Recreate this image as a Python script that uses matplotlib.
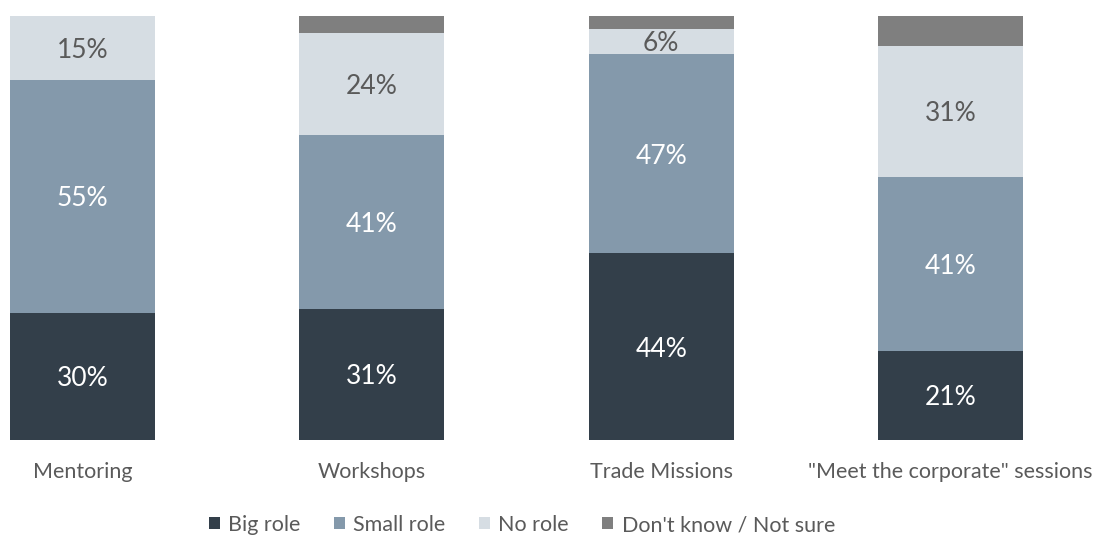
import matplotlib
matplotlib.use("Agg")
import matplotlib.pyplot as plt
from matplotlib.patches import Patch
import numpy as np

categories = ["Mentoring", "Workshops", "Trade Missions", "\"Meet the corporate\" sessions"]
big_role = [30, 31, 44, 21]
small_role = [55, 41, 47, 41]
no_role = [15, 24, 6, 31]
dont_know = [0, 4, 3, 7]

series_names = ["Big role", "Small role", "No role", "Don't know / Not sure"]
colors = ["#333f4a", "#8499ab", "#d6dde3", "#7f7f7f"]
label_colors = ["white", "white", "#5a5a5a", None]

plt.rcParams["font.family"] = ["Lato", "DejaVu Sans"]

fig = plt.figure(figsize=(10.97, 5.36), dpi=100)
W, H = 1097, 536
ax = fig.add_axes([10 / W, 96 / H, 1013 / W, 424 / H])

x = np.arange(len(categories))
width = 0.5
bottom = np.zeros(len(categories))
for vals, col, tcol in zip([big_role, small_role, no_role, dont_know],
                           colors, label_colors):
    vals = np.array(vals, dtype=float)
    ax.bar(x, vals, width, bottom=bottom, color=col, edgecolor="none")
    if tcol is not None:
        for xi, b, v in zip(x, bottom, vals):
            if v > 0:
                ax.text(xi, b + v / 2, f"{int(v)}%", ha="center", va="center_baseline",
                        color=tcol, fontsize=19)
    bottom += vals

ax.set_xlim(-0.25, 3.25)
ax.set_ylim(0, 100)
ax.set_xticks(x)
ax.set_xticklabels(categories, fontsize=15.5, color="#5a5a5a")
ax.tick_params(axis="x", length=0, pad=16)
ax.set_yticks([])
for s in ax.spines.values():
    s.set_visible(False)

handles = [Patch(facecolor=c, edgecolor="none") for c in colors]
fig.legend(handles, series_names, loc="center", bbox_to_anchor=(522 / W, 1 - 525 / H),
           ncol=4, frameon=False, handlelength=0.5, handleheight=0.5,
           handletextpad=0.4, columnspacing=1.55,
           prop={"size": 15.5}, labelcolor="#5a5a5a")

fig.savefig("out.png", dpi=100, facecolor="white")
